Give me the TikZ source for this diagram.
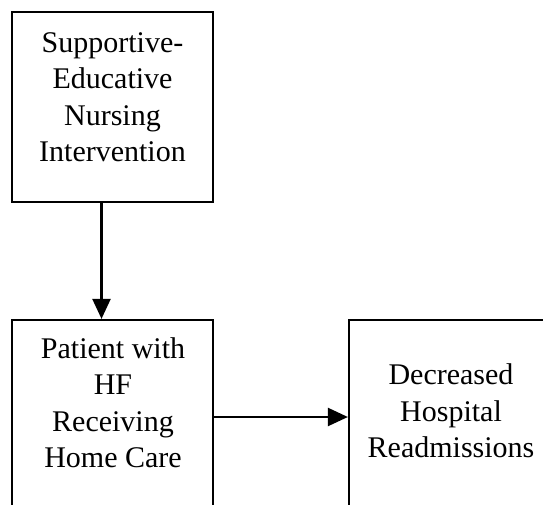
\documentclass[tikz,border=0pt]{standalone}
\usepackage{fontspec}
\setmainfont{Liberation Serif}
\usetikzlibrary{arrows.meta}
\begin{document}
\begin{tikzpicture}[x=1pt,y=-1pt,
  box/.style={draw, line width=2.2pt, inner sep=0pt},
  label/.style={align=center, inner sep=0pt, font=\fontsize{30}{36.5}\selectfont},
  conn/.style={line width=2.2pt, -{Triangle[length=20pt,width=18pt]}}]
\useasboundingbox (0,0) rectangle (543,505);
\clip (0,0) rectangle (543,505);
\node[box, minimum width=201pt, minimum height=190pt] (top) at (112.5,107) {};
\node[box, minimum width=201pt, minimum height=240pt] (bl) at (112.5,440) {};
\node[box, minimum width=271pt, minimum height=240pt] (br) at (484.5,440) {};
\node[label] (toptext) at (112.5,97) {Supportive-\\Educative\\Nursing\\Intervention};
\node[label] (bltext) at (113,402.5) {Patient with\\HF\\Receiving\\Home Care};
\node[label] (brtext) at (451,411) {Decreased\\Hospital\\Readmissions};
\draw[conn] ([xshift=-11pt]top.south) -- ([xshift=-11pt]bl.north);
\draw[conn] (bl.east |- 0,417) -- (br.west |- 0,417);
\end{tikzpicture}
\end{document}
